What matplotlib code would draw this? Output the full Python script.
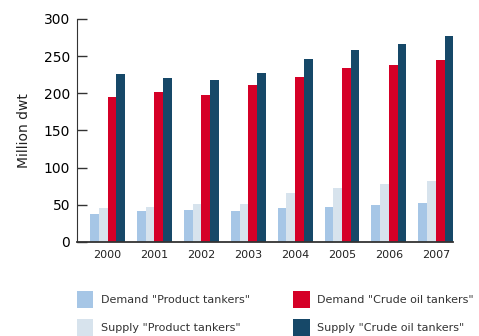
import matplotlib.pyplot as plt
import numpy as np

years = ['2000', '2001', '2002', '2003', '2004', '2005', '2006', '2007']
demand_product = [37, 42, 43, 42, 46, 47, 49, 53]
supply_product = [46, 47, 51, 51, 66, 72, 78, 82]
demand_crude = [195, 202, 198, 211, 222, 234, 238, 245]
supply_crude = [226, 221, 218, 227, 246, 258, 266, 277]

series = [
    ('Demand "Product tankers"', demand_product, '#a6c6e6'),
    ('Supply "Product tankers"', supply_product, '#d7e3ed'),
    ('Demand "Crude oil tankers"', demand_crude, '#d50027'),
    ('Supply "Crude oil tankers"', supply_crude, '#164868'),
]

fig = plt.figure(figsize=(4.79, 3.36), dpi=100)
ax = fig.add_axes([0.161, 0.280, 0.785, 0.664])

x = np.arange(len(years))
w = 0.186
for i, (label, vals, color) in enumerate(series):
    ax.bar(x + (i - 1.5) * w, vals, w, color=color, label=label)

ax.set_xlim(-0.65, 7.37)
ax.set_ylim(0, 300)
ax.set_yticks(range(0, 301, 50))
ax.set_xticks(x)
ax.set_xticklabels(years, fontsize=8, color='#222222')
ax.tick_params(axis='x', length=0, pad=6)
ax.tick_params(axis='y', direction='in', length=7, width=1, labelsize=10,
               color='#333333', pad=5)
ax.set_ylabel('Million dwt', fontsize=10, labelpad=9, color='#222222')

for s in ['top', 'right']:
    ax.spines[s].set_visible(False)
ax.spines['left'].set_color('#333333')
ax.spines['bottom'].set_color('#333333')
ax.spines['bottom'].set_linewidth(1.3)

fig.legend(loc='upper left', bbox_to_anchor=(0.160, 0.133), ncol=2,
           frameon=False, fontsize=8, handlelength=1.5, handleheight=1.9,
           handletextpad=0.7, columnspacing=3.85, labelspacing=1.05,
           borderaxespad=0, borderpad=0, labelcolor='#333333')

fig.savefig('out.png', dpi=100)
